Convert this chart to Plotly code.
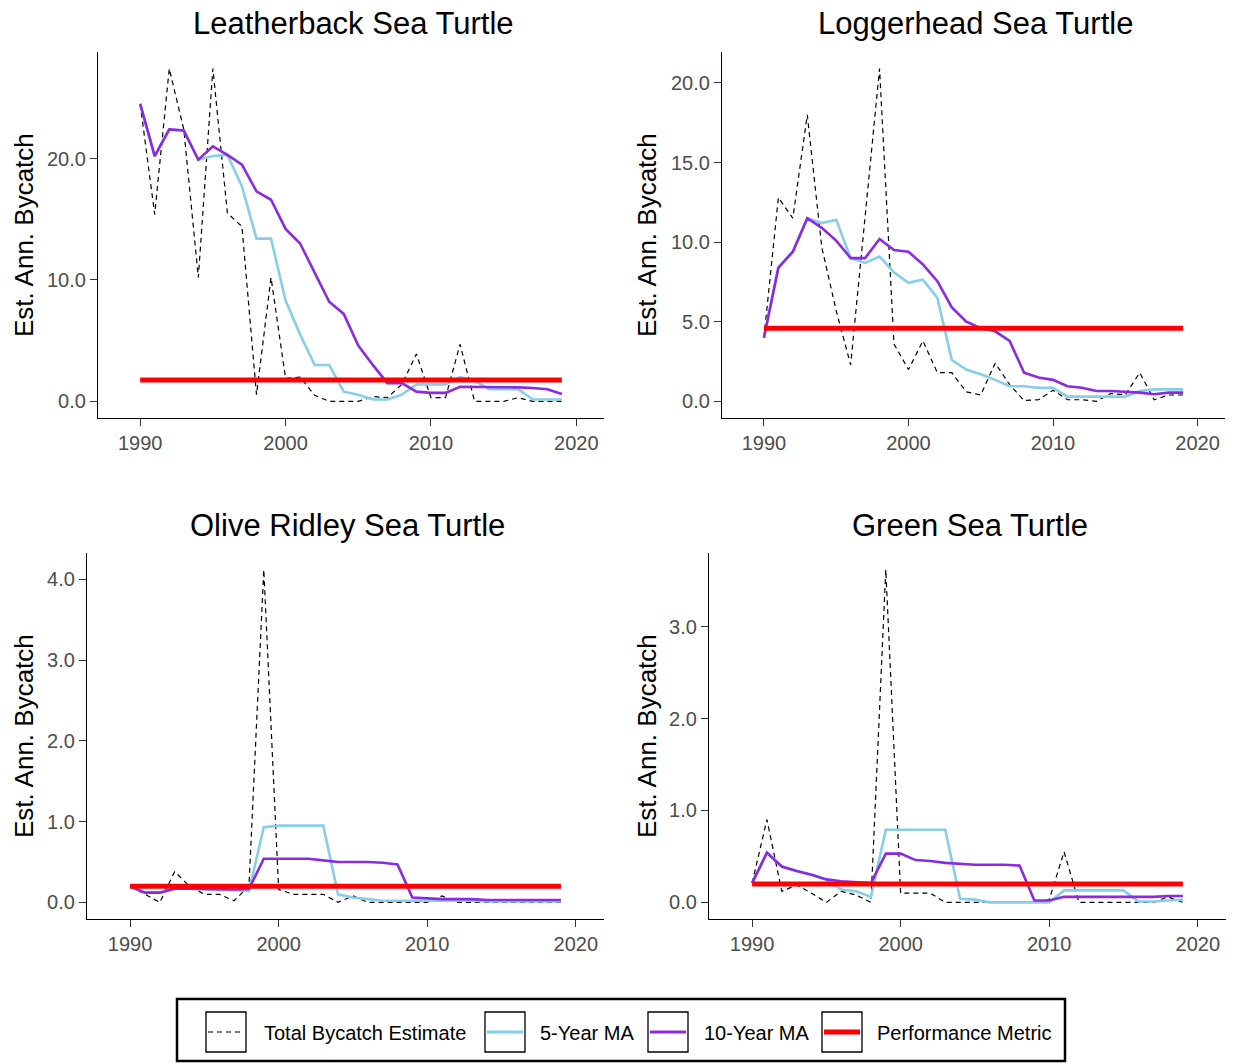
import plotly.graph_objects as go

W, H = 1241, 1063

years = list(range(1990, 2020))

# ---------------- data ----------------
species = ["Leatherback Sea Turtle", "Loggerhead Sea Turtle",
           "Olive Ridley Sea Turtle", "Green Sea Turtle"]

leather_total = [24.5, 15.4, 27.4, 22.4, 10.2, 27.4, 15.5, 14.4, 0.55, 10.2,
                 1.9, 2.0, 0.5, 0.0, 0.0, 0.0, 0.4, 0.3, 1.4, 3.9,
                 0.3, 0.3, 4.7, 0.0, 0.0, 0.0, 0.3, 0.0, 0.0, 0.0]
leather_ma5 = [24.5, 20.2, 22.4, 22.3, 19.9, 20.2, 20.3, 17.7, 13.4, 13.4,
               8.3, 5.5, 3.0, 3.0, 0.8, 0.55, 0.15, 0.15, 0.55, 1.4,
               1.4, 1.4, 2.0, 1.7, 1.0, 1.0, 1.0, 0.15, 0.15, 0.15]
leather_ma10 = [24.5, 20.2, 22.4, 22.3, 19.9, 21.0, 20.3, 19.5, 17.3, 16.6,
                14.2, 13.0, 10.6, 8.2, 7.2, 4.6, 3.0, 1.5, 1.5, 0.8,
                0.7, 0.7, 1.2, 1.2, 1.2, 1.2, 1.15, 1.1, 1.0, 0.6]
leather_metric = 1.75

logger_total = [4.0, 12.8, 11.5, 18.0, 9.7, 5.7, 2.3, 11.6, 20.9, 3.6,
                2.0, 3.8, 1.8, 1.8, 0.6, 0.4, 2.4, 1.05, 0.05, 0.1,
                0.7, 0.1, 0.1, 0.0, 0.5, 0.4, 1.8, 0.1, 0.4, 0.4]
logger_ma5 = [4.0, 8.4, 9.4, 11.5, 11.2, 11.4, 9.0, 8.7, 9.1, 8.1,
              7.45, 7.65, 6.5, 2.6, 2.0, 1.7, 1.35, 0.95, 0.95, 0.85,
              0.85, 0.3, 0.3, 0.3, 0.3, 0.3, 0.65, 0.75, 0.75, 0.75]
logger_ma10 = [4.0, 8.4, 9.4, 11.5, 10.9, 10.1, 9.0, 9.0, 10.2, 9.5,
               9.4, 8.6, 7.55, 5.9, 5.0, 4.6, 4.4, 3.8, 1.8, 1.5,
               1.35, 0.95, 0.85, 0.65, 0.65, 0.6, 0.55, 0.45, 0.55, 0.55]
logger_metric = 4.6

olive_total = [0.2, 0.1, 0.0, 0.38, 0.2, 0.1, 0.1, 0.02, 0.2, 4.12,
               0.16, 0.1, 0.1, 0.1, 0.0, 0.08, 0.0, 0.0, 0.0, 0.0,
               0.0, 0.08, 0.0, 0.0, 0.0, 0.0, 0.0, 0.0, 0.0, 0.0]
olive_ma5 = [0.2, 0.12, 0.12, 0.17, 0.17, 0.16, 0.15, 0.15, 0.14, 0.93,
             0.95, 0.95, 0.95, 0.95, 0.1, 0.06, 0.04, 0.02, 0.02, 0.02,
             0.02, 0.02, 0.02, 0.02, 0.01, 0.01, 0.01, 0.01, 0.01, 0.01]
olive_ma10 = [0.2, 0.12, 0.12, 0.17, 0.17, 0.165, 0.16, 0.16, 0.165, 0.54,
              0.54, 0.54, 0.54, 0.52, 0.5, 0.5, 0.5, 0.49, 0.47, 0.06,
              0.05, 0.04, 0.04, 0.04, 0.03, 0.03, 0.03, 0.03, 0.03, 0.03]
olive_metric = 0.2

green_total = [0.21, 0.9, 0.12, 0.19, 0.1, 0.0, 0.12, 0.08, 0.0, 3.62,
               0.1, 0.1, 0.1, 0.0, 0.0, 0.0, 0.0, 0.0, 0.0, 0.0,
               0.03, 0.55, 0.0, 0.0, 0.0, 0.0, 0.0, 0.0, 0.06, 0.0]
green_ma5 = [0.21, 0.54, 0.39, 0.34, 0.3, 0.25, 0.14, 0.12, 0.06, 0.79,
             0.79, 0.79, 0.79, 0.79, 0.04, 0.03, 0.0, 0.0, 0.0, 0.0,
             0.0, 0.13, 0.13, 0.13, 0.13, 0.13, 0.01, 0.01, 0.02, 0.03]
green_ma10 = [0.21, 0.54, 0.39, 0.34, 0.3, 0.25, 0.23, 0.22, 0.21, 0.53,
              0.53, 0.46, 0.45, 0.43, 0.42, 0.41, 0.41, 0.41, 0.40, 0.02,
              0.02, 0.06, 0.06, 0.06, 0.06, 0.06, 0.06, 0.06, 0.07, 0.07]
green_metric = 0.2

x_ticks = [1990, 2000, 2010, 2020]
y_ticks = [[0, 10, 20], [0, 5, 10, 15, 20], [0, 1, 2, 3, 4], [0, 1, 2, 3]]

legend_labels = ["Total Bycatch Estimate", "5-Year MA", "10-Year MA", "Performance Metric"]

# ---------------- styling ----------------
FONT = "Liberation Sans, Arial, sans-serif"
C_TOTAL = "black"
C_MA5 = "#87CEEB"
C_MA10 = "#8A2BE2"
C_METRIC = "#FF0000"

panels = [
    (leather_total, leather_ma5, leather_ma10, leather_metric),
    (logger_total, logger_ma5, logger_ma10, logger_metric),
    (olive_total, olive_ma5, olive_ma10, olive_metric),
    (green_total, green_ma5, green_ma10, green_metric),
]

# plot-area boxes in pixels: (left, right, top, bottom)
boxes = [(98, 604, 52, 418), (722, 1225, 52, 418),
         (87, 604, 553, 919), (709, 1226, 553, 919)]
ytitle_x = [24, 647, 24, 647]


def px_x(x):
    return x / W


def px_y(y):
    return 1 - y / H


fig = go.Figure()
annotations = []
shapes = []

for i, ((tot, ma5, ma10, metric), (l, r, t, b)) in enumerate(zip(panels, boxes)):
    n = i + 1
    xa = "x" if n == 1 else f"x{n}"
    ya = "y" if n == 1 else f"y{n}"
    fig.add_trace(go.Scatter(x=years, y=tot, mode="lines", xaxis=xa, yaxis=ya,
                             line=dict(color=C_TOTAL, width=1.2, dash="5px,4px"),
                             showlegend=False, hoverinfo="x+y"))
    fig.add_trace(go.Scatter(x=years, y=ma5, mode="lines", xaxis=xa, yaxis=ya,
                             line=dict(color=C_MA5, width=2.6),
                             showlegend=False))
    fig.add_trace(go.Scatter(x=years, y=ma10, mode="lines", xaxis=xa, yaxis=ya,
                             line=dict(color=C_MA10, width=2.6),
                             showlegend=False))
    fig.add_trace(go.Scatter(x=[years[0], years[-1]], y=[metric, metric], mode="lines",
                             xaxis=xa, yaxis=ya,
                             line=dict(color=C_METRIC, width=5),
                             showlegend=False))

    ymax = max(max(tot), max(ma5), max(ma10), metric)
    common = dict(showline=True, linecolor="black", linewidth=1.2, ticks="outside",
                  ticklen=7, tickwidth=1.1, tickcolor="#333333", showgrid=False,
                  zeroline=False, tickfont=dict(family=FONT, size=20, color="#4D4D4D"))
    fig.update_layout(**{
        ("xaxis" if n == 1 else f"xaxis{n}"): dict(
            domain=[px_x(l), px_x(r)], anchor=ya, range=[1987.1, 2021.9],
            tickvals=x_ticks, **common),
        ("yaxis" if n == 1 else f"yaxis{n}"): dict(
            domain=[px_y(b), px_y(t)], anchor=xa, range=[-0.05 * ymax, 1.05 * ymax],
            tickvals=y_ticks[i], tickformat=".1f", **common),
    })

    annotations.append(dict(text=species[i], x=px_x((l + r) / 2 + 2), y=px_y(t - 28),
                            xref="paper", yref="paper", showarrow=False,
                            xanchor="center", yanchor="middle",
                            font=dict(family=FONT, size=31, color="black")))
    annotations.append(dict(text="Est. Ann. Bycatch", x=px_x(ytitle_x[i]), y=px_y((t + b) / 2),
                            xref="paper", yref="paper", showarrow=False, textangle=-90,
                            xanchor="center", yanchor="middle",
                            font=dict(family=FONT, size=26, color="black")))

# ---------------- custom legend ----------------
shapes.append(dict(type="rect", xref="paper", yref="paper",
                   x0=px_x(177), x1=px_x(1065), y0=px_y(1061), y1=px_y(999),
                   line=dict(color="black", width=2.5), fillcolor="white", layer="below"))
key_boxes = [206, 485, 648, 822]
text_x = [262, 538, 702, 875]
key_styles = [dict(color=C_TOTAL, width=1.2, dash="5px,4px"),
              dict(color=C_MA5, width=2.8),
              dict(color=C_MA10, width=2.8),
              dict(color=C_METRIC, width=5)]
for kx, tx, st, lab in zip(key_boxes, text_x, key_styles, legend_labels):
    shapes.append(dict(type="rect", xref="paper", yref="paper",
                       x0=px_x(kx), x1=px_x(kx + 40), y0=px_y(1052), y1=px_y(1012),
                       line=dict(color="black", width=1.3)))
    shapes.append(dict(type="line", xref="paper", yref="paper",
                       x0=px_x(kx + 2), x1=px_x(kx + 38), y0=px_y(1032), y1=px_y(1032),
                       line=st))
    annotations.append(dict(text=lab, x=px_x(tx), y=px_y(1033), xref="paper", yref="paper",
                            showarrow=False, xanchor="left", yanchor="middle",
                            font=dict(family=FONT, size=20, color="black")))

fig.update_layout(width=W, height=H, margin=dict(l=0, r=0, t=0, b=0),
                  paper_bgcolor="white", plot_bgcolor="white",
                  annotations=annotations, shapes=shapes, showlegend=False,
                  font=dict(family=FONT))

fig.write_html("out.html")
